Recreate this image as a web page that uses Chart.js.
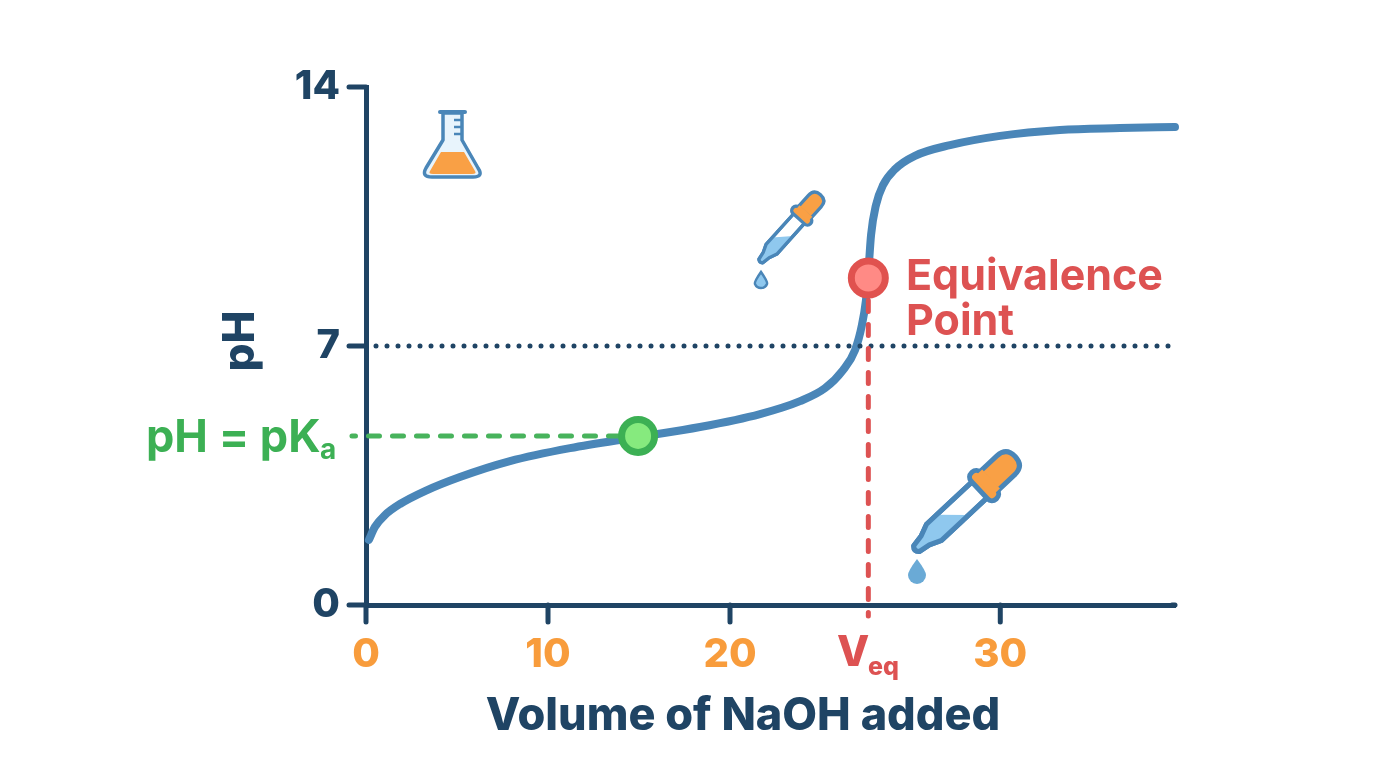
<!DOCTYPE html>
<html>
<head>
<meta charset="utf-8">
<title>Titration curve</title>
<script src="https://cdn.jsdelivr.net/npm/chart.js@4"></script>
<style>
    body { margin: 0; background: #fff; }
    #wrap { position: relative; width: 1376px; height: 768px; }
    #icons { position: absolute; left: 0; top: 0; pointer-events: none; }
</style>
</head>
<body>
<div id="wrap">
    <canvas id="myChart" width="1376" height="768"></canvas>
    <svg id="icons" width="1376" height="768" viewBox="0 0 1376 768">
        <defs>
            <g id="dropper" stroke="#4a86b8" stroke-width="5" stroke-linejoin="round">
                <path d="M2 -4 L14 -6 L26 -11 L90 -11 L90 11 L26 11 L14 6 L2 4 Q-2 0 2 -4 Z" fill="#fff"/>
                <path d="M2 -4 L14 -6 L26 -11 L40 -11 L63 11 L26 11 L14 6 L2 4 Q-2 0 2 -4 Z" fill="#8fc8ee" stroke="none"/>
                <path d="M2 -4 L14 -6 L26 -11 L90 -11 L90 11 L26 11 L14 6 L2 4 Q-2 0 2 -4 Z" fill="none"/>
                <path d="M100 -13 L124 -13 Q137 -13 137 0 Q137 13 124 13 L100 13 Z" fill="#f9a045"/>
                <rect x="88" y="-18" width="13" height="36" rx="6" fill="#f9a045"/>
                <path d="M93 -13 L104 -13 L104 13 L93 13 Z" fill="#f9a045" stroke="none"/>
            </g>
        </defs>
        <!-- flask -->
        <path d="M443 113 L443 140 L426 168 Q421 177 432 177 L473 177 Q484 177 478 168 L462 140 L462 113 Z" fill="#e8f4fc" stroke="#4a86b8" stroke-width="3.5" stroke-linejoin="round"/>
        <path d="M441 152 L464 152 L475 171 Q477 174 472 174 L433 174 Q428 174 430 171 Z" fill="#f9a045"/>
        <path d="M440 112 L465 112" stroke="#4a86b8" stroke-width="4" stroke-linecap="round"/>
        <path d="M454 120 L462 120 M454 127 L462 127 M454 134 L462 134" stroke="#4a86b8" stroke-width="2.5"/>
        <!-- droppers -->
        <use href="#dropper" transform="translate(760 262) rotate(-48) scale(0.66)"/>
        <path d="M761 272 Q768 282 767 284 A6.5 6.5 0 0 1 755 284 Q754 282 761 272 Z" fill="#8fc8ee" stroke="#4a86b8" stroke-width="2.5"/>
        <use href="#dropper" transform="translate(915 550) rotate(-43)"/>
        <path d="M917 559 Q926 571 926 575 A9 9 0 0 1 908 575 Q908 571 917 559 Z" fill="#6aaad6"/>
    </svg>
</div>
<script>
    const navy = "#1f4464";
    const orange = "#f89c3c";
    const red = "#dd5252";
    const green = "#3cb054";

    // curve (x is in the picture's own spacing, see xTickPositions)
    const curveVolume = [0.16, 0.49, 1.04, 1.87, 3.24, 5.16, 7.91, 11.21, 14.95, 18.35, 21.65, 23.85, 25.22, 26.21, 26.87, 27.25, 27.47, 27.58, 27.75, 28.02, 28.41, 29.07, 30.16, 32.09, 34.84, 38.13, 41.43, 44.45];
    const curvePH = [1.76, 2.11, 2.43, 2.73, 3.08, 3.46, 3.89, 4.24, 4.54, 4.81, 5.16, 5.51, 5.86, 6.35, 6.89, 7.57, 8.24, 8.84, 10.0, 10.81, 11.35, 11.78, 12.14, 12.43, 12.68, 12.84, 12.89, 12.92];

    // the picture does not space its x labels evenly: "30" sits further out than 0/10/20 would give
    const xTickPositions = [0, 10, 20, 27.6, 34.85];
    const xTickLabels = ["0", "10", "20", "", "30"];
    const yTickValues = [0, 7, 14];

    const xMax = 44.45;
    const halfVolume = 14.95;
    const halfPH = 4.57;
    const eqVolume = 27.6;
    const eqPH = 8.84;
    const neutralPH = 7;

    function toPoints(xs, ys) {
        return xs.map((x, i) => ({ x: x, y: ys[i] }));
    }

    function roundLine(ctx, x0, y0, x1, y1) {
        ctx.save();
        ctx.strokeStyle = navy;
        ctx.lineWidth = 5;
        ctx.lineCap = "round";
        ctx.beginPath();
        ctx.moveTo(x0, y0);
        ctx.lineTo(x1, y1);
        ctx.stroke();
        ctx.restore();
    }

    function drawText(ctx, text, x, y, font, color, align) {
        ctx.font = font;
        ctx.fillStyle = color;
        ctx.textAlign = align || "left";
        ctx.textBaseline = "alphabetic";
        ctx.fillText(text, x, y);
    }

    const extras = {
        id: "extras",
        afterDraw(chart) {
            const ctx = chart.ctx;
            const xs = chart.scales.x;
            const ys = chart.scales.y;

            /* round ended ticks */
            xTickPositions.forEach((v, i) => {
                if (xTickLabels[i] !== "") roundLine(ctx, xs.getPixelForValue(v), ys.bottom, xs.getPixelForValue(v), ys.bottom + 17);
            });
            yTickValues.forEach(v => {
                roundLine(ctx, xs.left, ys.getPixelForValue(v), xs.left - 17, ys.getPixelForValue(v));
            });
            roundLine(ctx, xs.right - 3, ys.bottom, xs.right, ys.bottom);

            ctx.save();
            drawText(ctx, "Volume of NaOH added", 743, 730, "800 45px Inter", navy, "center");
            drawText(ctx, "pH = pK", 146, 452, "700 45px Inter", green);
            drawText(ctx, "a", 320, 459, "700 28px Inter", green);
            drawText(ctx, "V", 837, 666, "800 42px Inter", red);
            drawText(ctx, "eq", 868, 675, "800 25px Inter", red);
            drawText(ctx, "Equivalence", 906, 290, "700 43px Inter", red);
            drawText(ctx, "Point", 906, 335, "700 43px Inter", red);

            ctx.translate(254, 341);
            ctx.rotate(-Math.PI / 2);
            drawText(ctx, "pH", 0, 0, "800 44px Inter", navy, "center");
            ctx.restore();
        }
    };

    let ctx = document.getElementById("myChart");
    let myChart = new Chart(ctx, {
        type: "line",
        data: {
            datasets: [
                {
                    data: toPoints(curveVolume, curvePH),
                    borderColor: "#4a86b8",
                    borderWidth: 8,
                    borderCapStyle: "round",
                    cubicInterpolationMode: "monotone",
                    pointRadius: 0,
                    order: 5
                },
                {
                    data: [{ x: 0.55, y: neutralPH }, { x: xMax, y: neutralPH }],
                    borderColor: navy,
                    borderWidth: 5,
                    borderDash: [0, 11],
                    borderCapStyle: "round",
                    pointRadius: 0,
                    order: 4
                },
                {
                    data: [{ x: -0.77, y: halfPH }, { x: halfVolume, y: halfPH }],
                    borderColor: "#48b35c",
                    borderWidth: 5,
                    borderDash: [11, 13],
                    borderDashOffset: 7.5,
                    borderCapStyle: "round",
                    pointRadius: 0,
                    order: 3
                },
                {
                    data: [{ x: eqVolume, y: eqPH }, { x: eqVolume, y: -0.3 }],
                    borderColor: red,
                    borderWidth: 5,
                    borderDash: [11, 13],
                    borderDashOffset: 1.5,
                    borderCapStyle: "round",
                    pointRadius: 0,
                    order: 3
                },
                {
                    data: [{ x: halfVolume, y: halfPH }],
                    pointRadius: 16.5,
                    pointBackgroundColor: "#86ea7e",
                    pointBorderColor: green,
                    pointBorderWidth: 7,
                    showLine: false,
                    order: 1
                },
                {
                    data: [{ x: eqVolume, y: eqPH }],
                    pointRadius: 17,
                    pointBackgroundColor: "#ff8a85",
                    pointBorderColor: "#e0524f",
                    pointBorderWidth: 7,
                    showLine: false,
                    order: 1
                }
            ]
        },
        options: {
            responsive: false,
            animation: false,
            clip: false,
            layout: { padding: { top: 87, right: 201, bottom: 0, left: 0 } },
            plugins: { legend: { display: false }, tooltip: { enabled: false } },
            scales: {
                x: {
                    type: "linear",
                    min: 0,
                    max: xMax,
                    afterFit(scale) { scale.height = 163; },
                    afterBuildTicks(scale) { scale.ticks = xTickPositions.map(v => ({ value: v })); },
                    border: { color: navy, width: 5 },
                    grid: { display: false },
                    ticks: {
                        autoSkip: false,
                        maxRotation: 0,
                        padding: 18,
                        color: orange,
                        font: { family: "Inter", size: 40, weight: "800" },
                        callback: (value, index) => xTickLabels[index]
                    }
                },
                y: {
                    min: 0,
                    max: 14,
                    afterFit(scale) { scale.width = 366; },
                    afterBuildTicks(scale) { scale.ticks = yTickValues.map(v => ({ value: v })); },
                    border: { color: navy, width: 5 },
                    grid: { display: false },
                    ticks: {
                        padding: 18,
                        color: navy,
                        font: { family: "Inter", size: 40, weight: "800" }
                    }
                }
            }
        },
        plugins: [extras]
    });
</script>
</body>
</html>
